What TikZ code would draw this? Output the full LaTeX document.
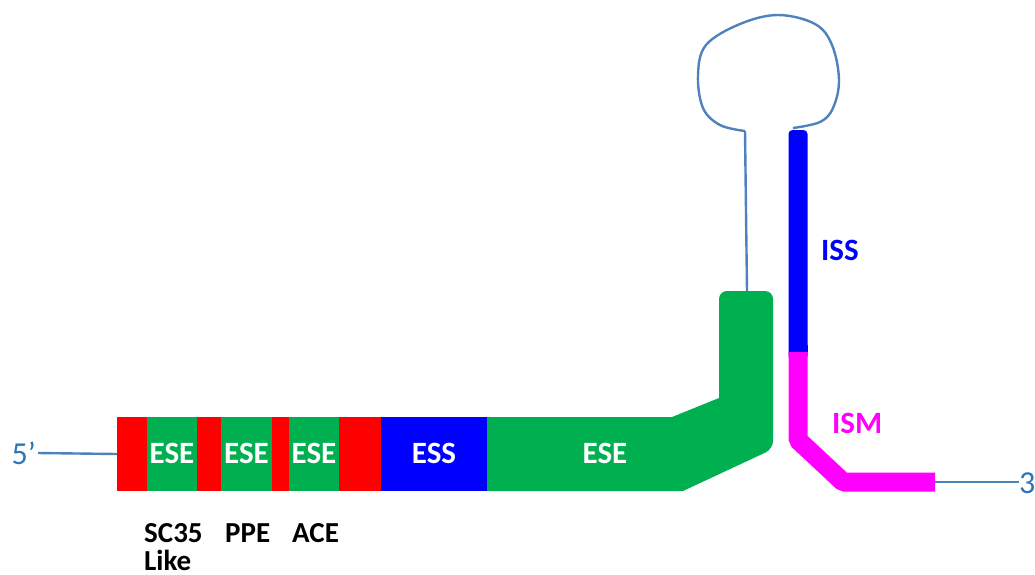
\documentclass[tikz,border=0pt]{standalone}
\usepackage{fontspec}
\setmainfont{Carlito}
\definecolor{segred}{HTML}{FF0000}
\definecolor{seggreen}{HTML}{00B050}
\definecolor{segblue}{HTML}{0000FF}
\definecolor{segmag}{HTML}{FF00FF}
\definecolor{thinline}{HTML}{4F81BD}
\definecolor{endtext}{HTML}{2E75B6}
\begin{document}
\begin{tikzpicture}[x=1pt,y=-1pt,
  inlabel/.style={text=white,font=\bfseries\fontsize{31}{33}\selectfont,inner sep=0pt},
  sublabel/.style={text=black,font=\bfseries\fontsize{29}{31}\selectfont,inner sep=0pt,anchor=west},
  sidelabel/.style={font=\bfseries\fontsize{31}{33}\selectfont,inner sep=0pt,anchor=west},
  endlabel/.style={text=endtext,font=\fontsize{32}{34}\selectfont,inner sep=0pt},
  thin/.style={draw=thinline,line width=2.4pt},
  strand/.style={line width=19pt}]
\useasboundingbox (0,0) rectangle (1035,574);
% exon segments
\fill[segred]   (117,417) rectangle (147,491);
\fill[seggreen] (147,417) rectangle (197,491);
\fill[segred]   (197,417) rectangle (221,491);
\fill[seggreen] (221,417) rectangle (272,491);
\fill[segred]   (272,417) rectangle (289,491);
\fill[seggreen] (289,417) rectangle (339,491);
\fill[segred]   (339,417) rectangle (381,491);
\fill[segblue]  (381,417) rectangle (487,491);
\fill[seggreen] (487,417) -- (672,417) -- (719,398) [rounded corners=8pt] -- (719,291) -- (773,291) -- (773,449) [sharp corners] -- (683,491) -- (487,491) -- cycle;
% labels in segments
\node[inlabel] (e1) at (172,453) {ESE};
\node[inlabel] (e2) at (246.5,453) {ESE};
\node[inlabel] (e3) at (314,453) {ESE};
\node[inlabel] (ess) at (434,453) {ESS};
\node[inlabel] (e4) at (605,453) {ESE};
% sublabels
\node[sublabel] (sc) at (144,533) {SC35};
\node[sublabel] (like) at (144,560) {Like};
\node[sublabel] (ppe) at (225,533) {PPE};
\node[sublabel] (ace) at (292,533) {ACE};
% 5' end
\node[endlabel,anchor=east] (five) at (36,453) {5’};
\coordinate (barstart) at (117,454);
\draw[thin] (five.east) ++(2,0) coordinate (fiveend) -- (barstart);
% stem and loop
\coordinate (stembot) at (747,291);
\coordinate (stemtop) at (745,131);
\draw[thin] (stembot) -- (stemtop);
\draw[thin] plot[smooth,tension=0.6] coordinates {(745,131) (720,125) (703,108) (698,75) (706,45) (740,24) (778,15) (815,24) (832,45) (839,80) (833,108) (820,122) (793,128)};
% intron strand
\coordinate (iss2) at (798,352);
\coordinate (ism3) at (798,440);
\coordinate (ism4) at (843,482);
\coordinate (ism5) at (935,482);
\fill[segblue, rounded corners=4pt] (788.5,130) rectangle (807.5,360);
\fill[segblue] (788.5,345) rectangle (807.5,352);
\draw[segmag,strand,line join=bevel] (iss2) -- (ism3) -- (ism4) -- (ism5);
\fill[segmag] (930,473) rectangle (935,491);
\node[sidelabel,text=segblue] (iss) at (821,250) {ISS};
\node[sidelabel,text=segmag] (ism) at (832,423) {ISM};
% 3' end
\node[endlabel,anchor=west] (three) at (1019,482) {3’};
\draw[thin] (ism5) -- (three.west);
\end{tikzpicture}
\end{document}
